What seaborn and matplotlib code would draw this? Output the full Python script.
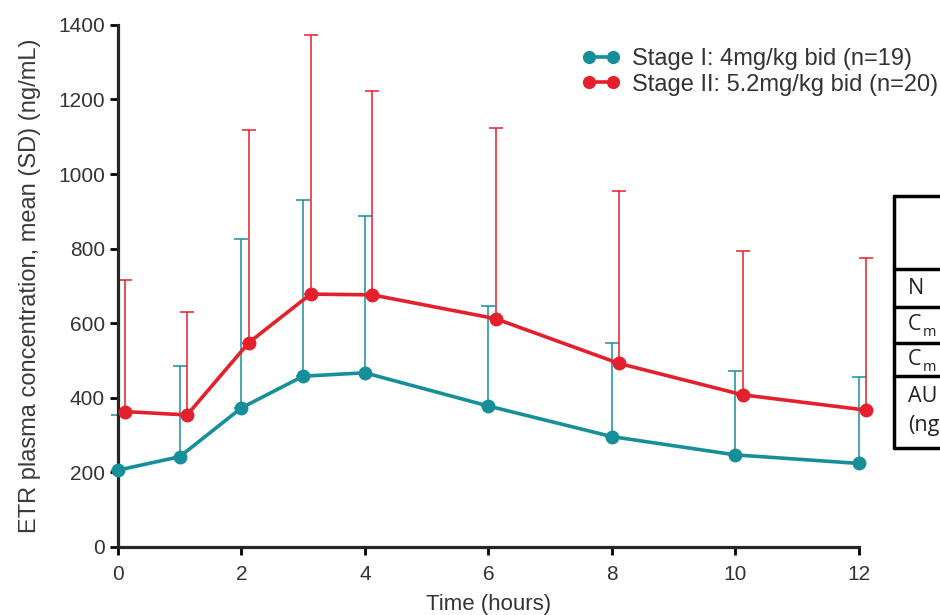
import numpy as np
import pandas as pd
import seaborn as sns
import matplotlib.pyplot as plt

# time points (hours)
times = [0, 1, 2, 3, 4, 6, 8, 10, 12]

# Stage I: 4mg/kg bid
stage1_mean = [206, 242, 373, 458, 467, 378, 296, 247, 224]
stage1_sd = [149, 244, 453, 472, 420, 267, 252, 226, 233]

# Stage II: 5.2mg/kg bid
stage2_mean = [363, 354, 548, 678, 676, 612, 492, 408, 367]
stage2_sd = [353, 275, 570, 695, 546, 511, 462, 386, 409]

labels = ['Stage I: 4mg/kg bid (n=19)', 'Stage II: 5.2mg/kg bid (n=20)']
colors = ['#178f9b', '#e3202c']
dodge = [0.0, 0.12]

# visible part of the table cut off at the right edge
table_rows = ['N', 'C', 'C', 'AU', '(ng']
table_subs = ['', 'm', 'm', '', '']

df = pd.concat([
    pd.DataFrame({'time': times, 'mean': stage1_mean, 'sd': stage1_sd, 'stage': labels[0]}),
    pd.DataFrame({'time': times, 'mean': stage2_mean, 'sd': stage2_sd, 'stage': labels[1]}),
], ignore_index=True)
df['x'] = df['time'] + df['stage'].map(dict(zip(labels, dodge)))

sns.set_style("ticks")
plt.rcParams['font.family'] = ['Liberation Sans', 'DejaVu Sans']

fig = plt.figure(figsize=(9.4, 6.15), dpi=100)
ax = fig.add_axes([0.1255, 0.1106, 0.788, 0.849])

# one-sided SD bars
for lab, c in zip(labels, colors):
    d = df[df['stage'] == lab]
    ax.errorbar(d['x'], d['mean'], yerr=[np.zeros(len(d)), d['sd']], fmt='none',
                ecolor=c, elinewidth=1.3, capsize=5, capthick=1.3, alpha=0.85,
                clip_on=False, zorder=2)

sns.lineplot(data=df, x='x', y='mean', hue='stage', palette=dict(zip(labels, colors)),
             marker='o', markersize=10, markeredgewidth=0, linewidth=2.6,
             ax=ax, legend=False, clip_on=False, zorder=3)

ax.set_xlim(0, 12)
ax.set_ylim(0, 1400)
ax.set_xticks(range(0, 13, 2))
ax.set_yticks(range(0, 1401, 200))
ax.tick_params(length=6, width=2, labelsize=15, colors='#333333')
ax.tick_params(axis='x', pad=7)
ax.tick_params(axis='both', color='black')
for s in ['left', 'bottom']:
    ax.spines[s].set_linewidth(2.3)
sns.despine(ax=ax)

ax.set_xlabel('Time (hours)', fontsize=16, color='#333333', labelpad=7)
ax.set_ylabel('ETR plasma concentration, mean (SD) (ng/mL)', fontsize=17,
              color='#3a3a3a', labelpad=12)

handles = [plt.Line2D([0], [0], color=c, marker='o', markersize=9.5, markeredgewidth=0,
                      linewidth=2.6) for c in colors]
fig.legend(handles, labels, loc='upper right', bbox_to_anchor=(0.998, 0.922),
           frameon=False, fontsize=17, numpoints=2, handlelength=1.6,
           handletextpad=0.5, labelspacing=0.15, borderpad=0, borderaxespad=0,
           labelcolor='#333333')

W, H = 940, 615
x0 = 894
row_lines = [196, 269, 307, 343, 376, 448]
lw = 2.5
fig.add_artist(plt.Line2D([x0 / W, x0 / W], [1 - row_lines[0] / H, 1 - row_lines[-1] / H],
                          color='black', linewidth=lw, transform=fig.transFigure))
for yl in row_lines:
    fig.add_artist(plt.Line2D([x0 / W, 1.0], [1 - yl / H, 1 - yl / H],
                              color='black', linewidth=lw, transform=fig.transFigure))

tx = (x0 + 14) / W
row_centers = [(row_lines[1] + row_lines[2]) / 2, (row_lines[2] + row_lines[3]) / 2,
               (row_lines[3] + row_lines[4]) / 2, row_lines[4] + 20, row_lines[4] + 50]
for txt, sub, yc in zip(table_rows, table_subs, row_centers):
    fig.text(tx, 1 - yc / H, txt, fontsize=15.5, family='Open Sans', va='center',
             ha='left', color='#222222')
    if sub:
        fig.text(tx + 15 / W, 1 - (yc + 8) / H, sub, fontsize=10.5, family='Open Sans',
                 va='center', ha='left', color='#222222')

fig.savefig('out.png', dpi=100)
